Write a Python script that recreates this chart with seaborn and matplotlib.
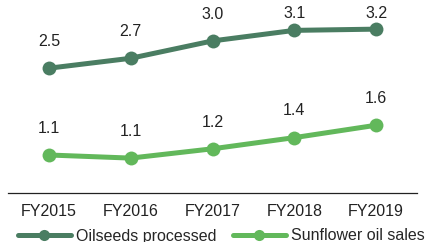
import pandas as pd
import numpy as np
import matplotlib
matplotlib.use("Agg")
import matplotlib.pyplot as plt
import seaborn as sns

years = ['FY2015', 'FY2016', 'FY2017', 'FY2018', 'FY2019']
oilseeds = [2.52, 2.68, 2.96, 3.13, 3.15]
oilseeds_labels = ['2.5', '2.7', '3.0', '3.1', '3.2']
sunflower = [1.12, 1.07, 1.22, 1.40, 1.60]
sunflower_labels = ['1.1', '1.1', '1.2', '1.4', '1.6']
series_names = ['Oilseeds processed', 'Sunflower oil sales']

sns.set_style('white')
plt.rcParams['font.family'] = ['Liberation Sans', 'DejaVu Sans']

df = pd.DataFrame({
    'year': years * 2,
    'value': oilseeds + sunflower,
    'series': [series_names[0]] * 5 + [series_names[1]] * 5,
})
df['pos'] = list(range(5)) * 2

colors = {series_names[0]: '#4A7D62', series_names[1]: '#62B85B'}

fig = plt.figure(figsize=(4.33, 2.42), dpi=100)
ax = fig.add_axes([8 / 433, 49 / 242, 409 / 433, 193 / 242])

sns.lineplot(data=df, x='pos', y='value', hue='series', palette=colors,
             marker='o', markersize=10, linewidth=3.6, markeredgewidth=0,
             ax=ax)

# value labels
for vals, labs in [(oilseeds, oilseeds_labels), (sunflower, sunflower_labels)]:
    for i, (v, t) in enumerate(zip(vals, labs)):
        ax.text(i, min(v + 0.43, 3.41), t, ha='center', va='center',
                fontsize=11.5, color='#222222')

ax.set_xlim(-0.5, 4.5)
ax.set_ylim(0.507, 3.62)
ax.set_xticks(range(5))
ax.set_xticklabels(years, fontsize=11.5, color='#222222')
ax.set_yticks([])
ax.set_xlabel('')
ax.set_ylabel('')
for s in ['top', 'right', 'left']:
    ax.spines[s].set_visible(False)
ax.spines['bottom'].set_color('#222222')
ax.spines['bottom'].set_linewidth(0.9)
ax.tick_params(axis='x', length=0, pad=8)

handles, labels = ax.get_legend_handles_labels()
ax.legend(handles, labels, loc='center', bbox_to_anchor=(0.5 + 5 / 433, 6 / 242),
          bbox_transform=fig.transFigure, ncol=2, frameon=False,
          fontsize=11.5, handlelength=3.3, handletextpad=0.35,
          columnspacing=1.0, borderpad=0, markerscale=0.8)

fig.savefig('out.png', dpi=100)
